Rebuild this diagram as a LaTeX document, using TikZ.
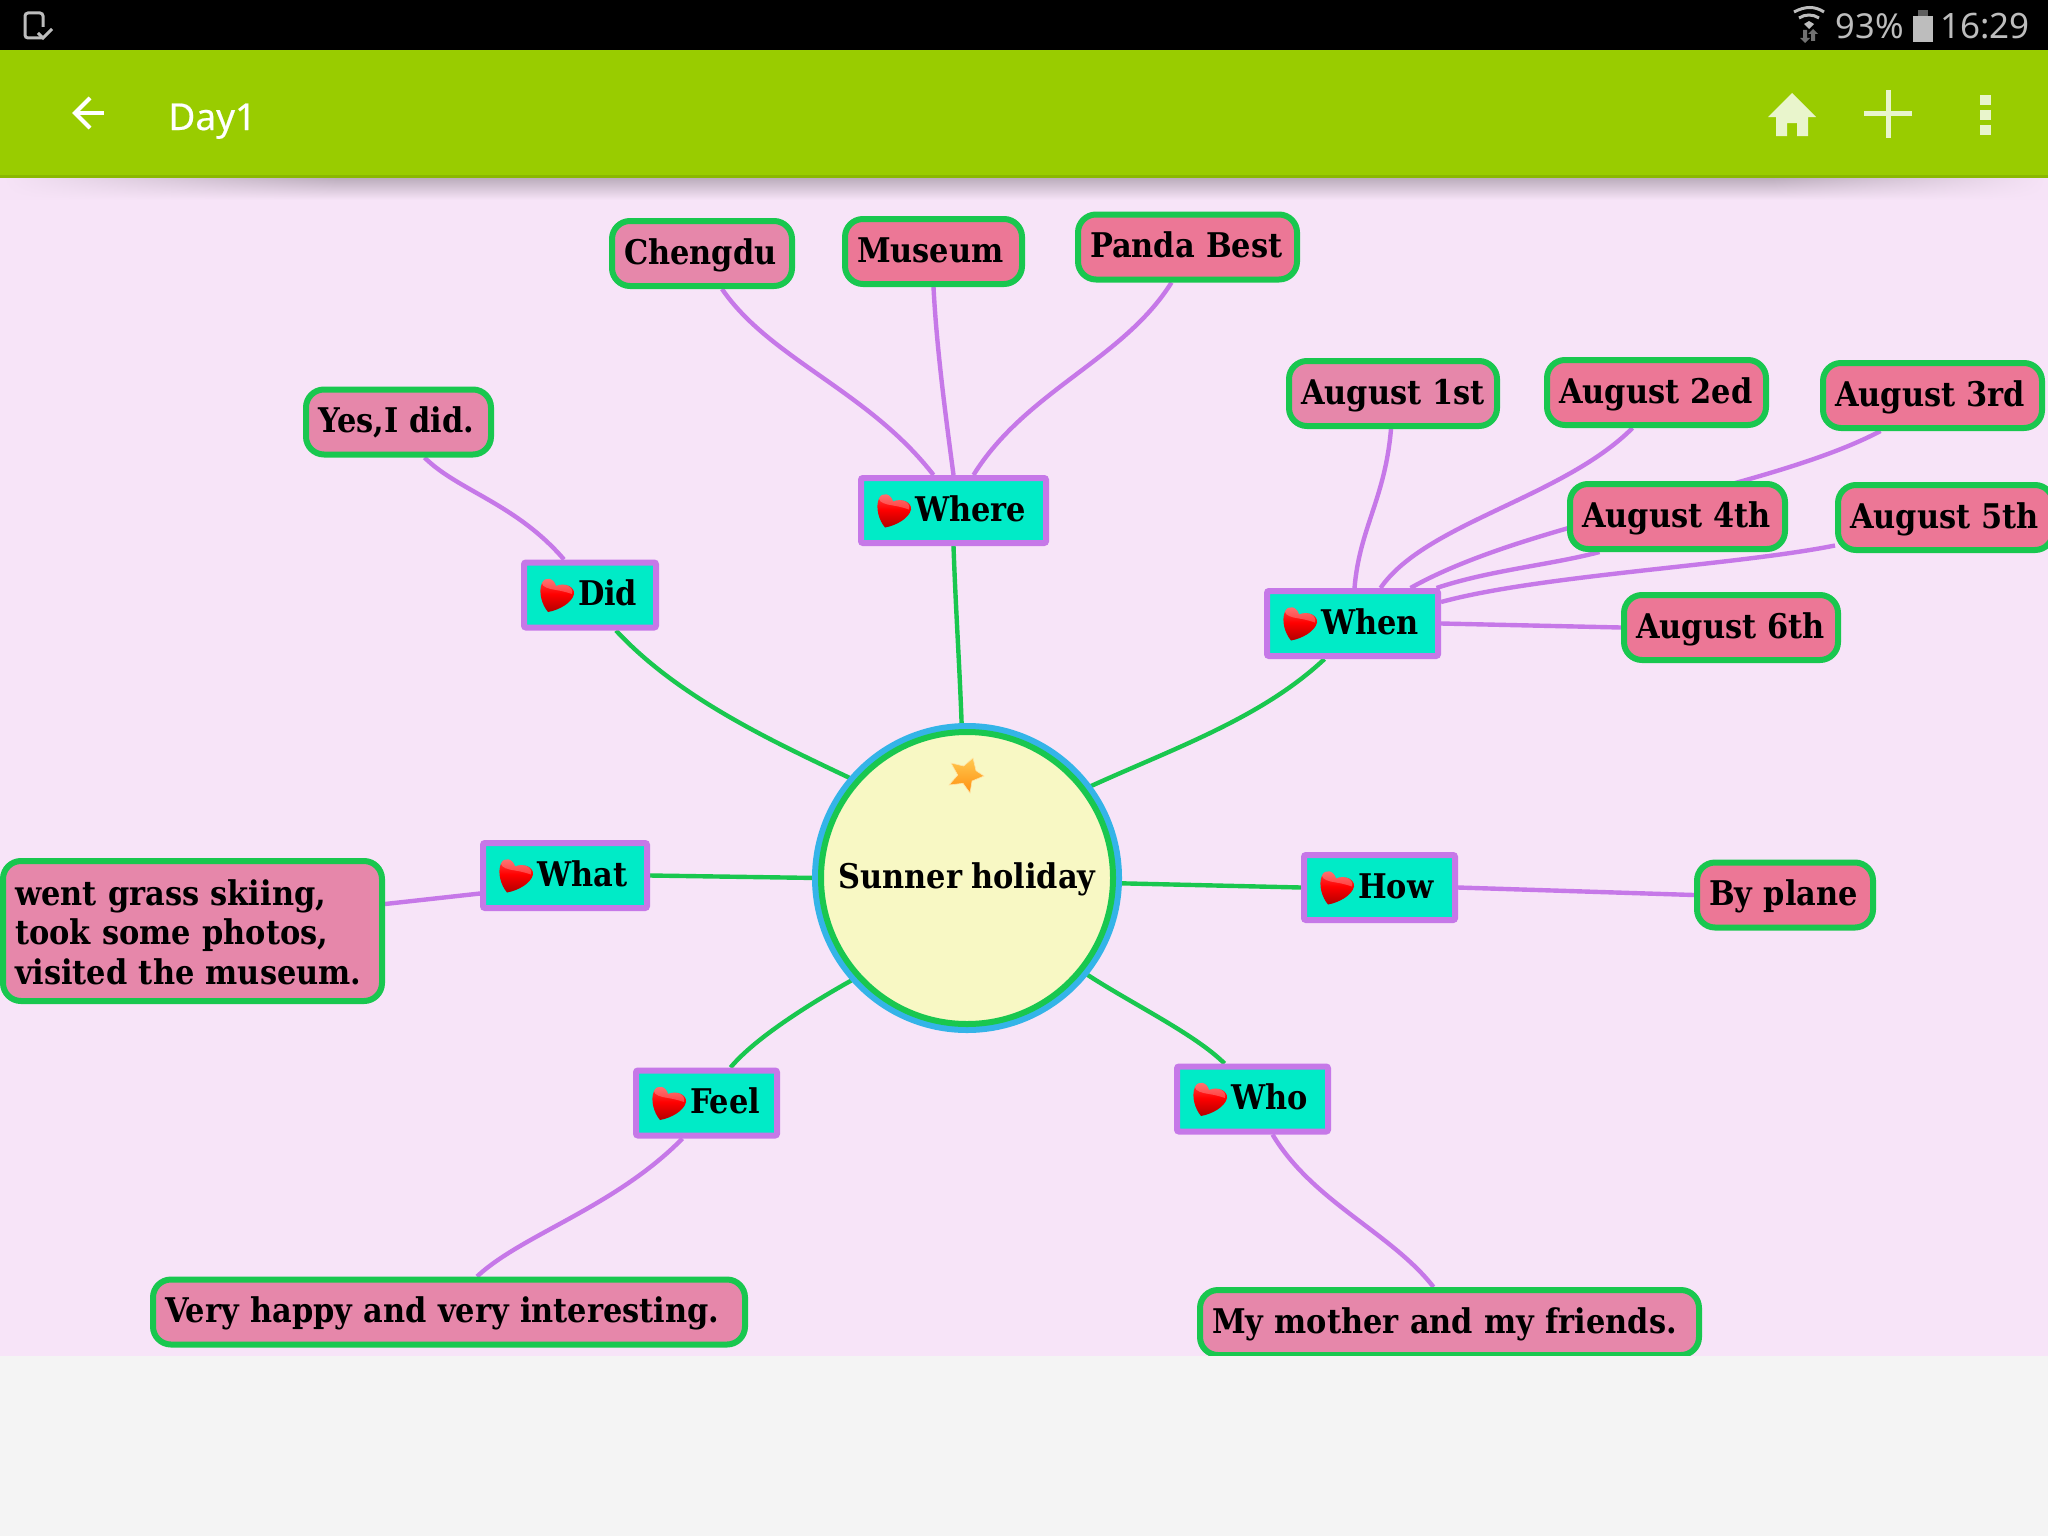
\documentclass[tikz,border=0pt]{standalone}
\usepackage{fontspec}
\usetikzlibrary{backgrounds,fadings}
\setmainfont{DejaVu Serif}[FakeStretch=0.895,WordSpace=0.85]
\newfontfamily\barfont{Noto Sans}
\newfontfamily\titlefont{Noto Sans}[FakeBold=0.5]
\definecolor{canvaspink}{HTML}{F7E4F8}
\definecolor{barlime}{HTML}{99CC00}
\definecolor{iconpale}{HTML}{E9F5CC}
\definecolor{statusgrey}{HTML}{BDBDBD}
\definecolor{bottomgrey}{HTML}{F4F4F4}
\definecolor{linegreen}{HTML}{19C74F}
\definecolor{linepurple}{HTML}{C678E8}
\definecolor{ringblue}{HTML}{34B4E8}
\definecolor{rootcream}{HTML}{F8F8C4}
\definecolor{topicteal}{HTML}{00EBC7}
\definecolor{leafrose}{HTML}{E687AA}
\definecolor{leafpink}{HTML}{EC7796}
\definecolor{stargold}{HTML}{FFC850}
\definecolor{starorange}{HTML}{FF9010}
\tikzset{
    maptext/.style={font=\bfseries\fontsize{17}{19.75}\selectfont, text=black, text height=16.5pt, text depth=5.7pt},
    root/.style={circle, maptext, draw=linegreen, line width=3pt, fill=rootcream, minimum size=146pt, inner sep=0pt,
        preaction={draw=ringblue, line width=9pt}},
    topic/.style={rectangle, maptext, draw=linepurple, line width=3pt, fill=topicteal, rounded corners=1pt,
        minimum height=32.5pt, inner xsep=0pt, inner ysep=0pt, align=left, execute at begin node={\hspace*{27pt}}},
    leaf/.style={rectangle, maptext, draw=linegreen, line width=3pt, fill=#1, rounded corners=9pt,
        minimum height=32.5pt, inner xsep=6pt, inner ysep=0pt, align=left,
        execute at begin node={\rightskip=-20pt plus 1fil\relax}},
    leaf/.default=leafpink,
    trunk/.style={linegreen, line width=2.2pt},
    branch/.style={linepurple, line width=2.2pt},
    heartmark/.pic={
        \shade[top color=red!70!white, bottom color=red!70!black, middle color=red]
            (-1,-9) .. controls (-3,-17) and (-12,-19) .. (-15,-12) .. controls (-19,-3) and (-15,10) .. (-9,17)
            .. controls (2,15) and (15,8) .. (17,-1) .. controls (18,-8) and (8,-13) .. (-1,-9) -- cycle;
        \fill[white, opacity=.25]
            (-1,-9) .. controls (-3,-17) and (-12,-19) .. (-15,-12) .. controls (-15,-8) and (-8,-6) .. (-1,-5)
            .. controls (6,-4) and (12,-2) .. (15,-1) .. controls (17,-8) and (8,-13) .. (-1,-9) -- cycle;
    },
    starmark/.pic={
        \shade[top color=stargold, bottom color=starorange, draw=stargold!50!white, line width=.3pt]
            (-16,-13) -- (-3.3,-10) -- (6,-18) -- (9,-5.3) -- (17,0) -- (5,5) -- (3,17) -- (-4,7.3) -- (-18,9) -- (-9.3,-1) -- cycle;
    }
}
\begin{document}
\begin{tikzpicture}[x=0.5pt, y=-0.5pt]
    \useasboundingbox (0,0) rectangle (2048,1536);
    \clip (0,0) rectangle (2048,1536);

    \node[root] (sunner) at (967,878) {Sunner holiday};
    \pic at ([yshift=51pt]sunner.center) {starmark};

    \node[topic, text width=92.5pt] (where) at (953.5,510.5) {Where};
    \node[topic, text width=66pt] (did) at (590,595) {Did};
    \node[topic, text width=85.5pt] (when) at (1352.5,623.5) {When};
    \node[topic, text width=82pt] (what) at (565,875.5) {What};
    \node[topic, text width=75.5pt] (how) at (1379.5,887.5) {How};
    \node[topic, text width=70.5pt] (feel) at (706.5,1103) {Feel};
    \node[topic, text width=75.5pt] (who) at (1252.5,1099) {Who};
    \foreach \n in {where,did,when,what,how,feel,who}
        \pic at ([xshift=18pt]\n.west) {heartmark};

    \node[leaf=leafrose, text width=78pt] (chengdu) at (702,253.5) {Chengdu};
    \node[leaf, text width=76.5pt] (museum) at (933.5,251.5) {Museum};
    \node[leaf, text width=97.5pt] (panda) at (1187.5,247) {Panda Best};
    \node[leaf=leafrose, text width=80.5pt] (yes) at (398.5,422) {Yes,I did.};
    \node[leaf=leafrose, text width=92pt] (aug1) at (1393,393.5) {August 1st};
    \node[leaf, text width=97.5pt] (aug2) at (1656.5,392.5) {August 2ed};
    \node[leaf, text width=97.5pt] (aug3) at (1932.5,395.5) {August 3rd};
    \node[leaf, text width=95.5pt] (aug4) at (1677.5,516.5) {August 4th};
    \node[leaf, text width=95.5pt] (aug5) at (1945.5,517.5) {August 5th};
    \node[leaf, text width=95pt] (aug6) at (1731,627.5) {August 6th};
    \node[leaf=leafrose, text width=177.5pt, minimum height=70pt, text depth=42.5pt] (went) at (192.5,931) {went grass skiing,\\took some photos,\\visited the museum.};
    \node[leaf, text width=76pt] (plane) at (1785,895) {By plane};
    \node[leaf=leafrose, text width=284pt] (happy) at (449,1312) {Very happy and very interesting.};
    \node[leaf=leafrose, text width=237.5pt] (mother) at (1449.5,1322.5) {My mother and my friends.};

    \begin{scope}[on background layer]
        \fill[canvaspink] (0,177) rectangle (2048,1356);
        \shade[top color=black!24!canvaspink, bottom color=canvaspink] (0,178) rectangle (2048,200);
        \fill[canvaspink, path fading=east] (0,178) rectangle (340,200);
        \fill[canvaspink, path fading=west] (1770,178) rectangle (2048,200);

        \draw[trunk] ([xshift=13pt]did.south) .. controls +(63,68) and +(-80,-38) .. (sunner.139);
        \draw[trunk] (where.south) .. controls +(2,60) and +(-2,-60) .. (sunner.92);
        \draw[trunk] ([xshift=-14pt]when.south) .. controls +(-64,60) and +(85,-39) .. (sunner.37);
        \draw[trunk] (what.east) -- (sunner.180);
        \draw[trunk] (sunner.358) -- (how.west);
        \draw[trunk] ([xshift=12pt]feel.north) .. controls +(25,-30) and +(-45,25) .. (sunner.222);
        \draw[trunk] ([xshift=-14pt]who.north) .. controls +(-30,-30) and +(45,30) .. (sunner.-39);

        \draw[branch] ([xshift=-13pt]did.north) .. controls +(-48,-56) and +(33,33) .. ([xshift=13pt]yes.south);
        \draw[branch] ([xshift=-10pt]where.north) .. controls +(-65,-84) and +(48,70) .. ([xshift=10pt]chengdu.south);
        \draw[branch] (where.north) .. controls +(-8,-60) and +(3,60) .. (museum.south);
        \draw[branch] ([xshift=10pt]where.north) .. controls +(52,-84) and +(-48,77) .. ([xshift=-8pt]panda.south);
        \draw[branch] ([xshift=1pt]when.north) .. controls +(5,-60) and +(-6,70) .. ([xshift=-1pt]aug1.south);
        \draw[branch] ([xshift=14pt]when.north) .. controls +(45,-65) and +(-70,70) .. ([xshift=-12pt]aug2.south);
        \draw[branch] ([xshift=29pt]when.north) .. controls +(120,-68) and +(-111,59) .. ([xshift=-26pt]aug3.south);
        \draw[branch] ([xshift=42pt]when.north) .. controls +(54,-18) and +(-49,13) .. ([xshift=-39pt]aug4.south);
        \draw[branch] ([yshift=10.75pt]when.east) .. controls +(99,-27) and +(-100,20) .. ([yshift=-14pt]aug5.west);
        \draw[branch] (when.east) -- (aug6.west);
        \draw[branch] ([yshift=-9pt]what.west) -- ([yshift=13.5pt]went.east);
        \draw[branch] (how.east) -- (plane.west);
        \draw[branch] ([xshift=-12pt]feel.south) .. controls +(-68,69) and +(45,-42) .. ([xshift=14pt]happy.north);
        \draw[branch] ([xshift=10pt]who.south) .. controls +(40,67) and +(-42,-54) .. ([xshift=-8pt]mother.north);
    \end{scope}

    % bottom of the screen
    \fill[bottomgrey] (0,1356) rectangle (2048,1536);

    % status bar
    \fill[black] (0,0) rectangle (2048,50);
    \draw[statusgrey, line width=1.5pt, rounded corners=1.5pt] (42,38) -- (25,38) -- (25,13) -- (43,13) -- (43,27);
    \draw[statusgrey, line width=1.5pt] (38,33) -- (43,38) -- (52,29);
    \draw[statusgrey, line width=1.5pt] (1794,12) .. controls (1805,6) and (1815,6) .. (1824,12);
    \draw[statusgrey, line width=1.5pt] (1799,18) .. controls (1805,14) and (1813,14) .. (1819,18);
    \fill[statusgrey] (1804,24) -- (1809,21) -- (1814,24) -- (1809,29) -- cycle;
    \fill[statusgrey!60!black] (1803,30) -- (1803,38) -- (1800,38) -- (1805,43) -- (1810,38) -- (1807,38) -- (1807,30) -- cycle;
    \fill[statusgrey!60!black] (1811,41) -- (1811,34) -- (1808,34) -- (1813,29) -- (1818,34) -- (1815,34) -- (1815,41) -- cycle;
    \node[anchor=base east, inner sep=0pt, font=\barfont\fontsize{17.2}{20}\selectfont, text=statusgrey] (level) at (1904,39) {93\%};
    \fill[statusgrey] (1913,16) rectangle (1933,42);
    \fill[statusgrey!50!black] (1918,10) rectangle (1928,16);
    \node[anchor=base east, inner sep=0pt, font=\barfont\fontsize{17.5}{20}\selectfont, text=statusgrey] (clock) at (2030,39) {16:29};

    % app bar
    \fill[barlime] (0,50) rectangle (2048,177);
    \fill[barlime!90!black] (0,175) rectangle (2048,178);
    \draw[white, line width=2pt] (104,113) -- (75,113);
    \draw[white, line width=2pt] (90,98) -- (75,113) -- (90,128);
    \node[anchor=base west, inner sep=0pt, font=\titlefont\fontsize{18.5}{24}\selectfont, text=white] (day) at (168,130) {Day1};
    \fill[iconpale] (1792,93) -- (1816,117) -- (1808,117) -- (1808,136) -- (1797,136) -- (1797,123) -- (1787,123) -- (1787,136) -- (1776,136) -- (1776,117) -- (1768,117) -- cycle;
    \draw[iconpale, line width=2.5pt] (1864,114) -- (1912,114);
    \draw[iconpale, line width=2.5pt] (1888,90) -- (1888,138);
    \fill[iconpale] (1980,95) rectangle (1991,105);
    \fill[iconpale] (1980,110) rectangle (1991,120);
    \fill[iconpale] (1980,125) rectangle (1991,135);
\end{tikzpicture}
\end{document}
